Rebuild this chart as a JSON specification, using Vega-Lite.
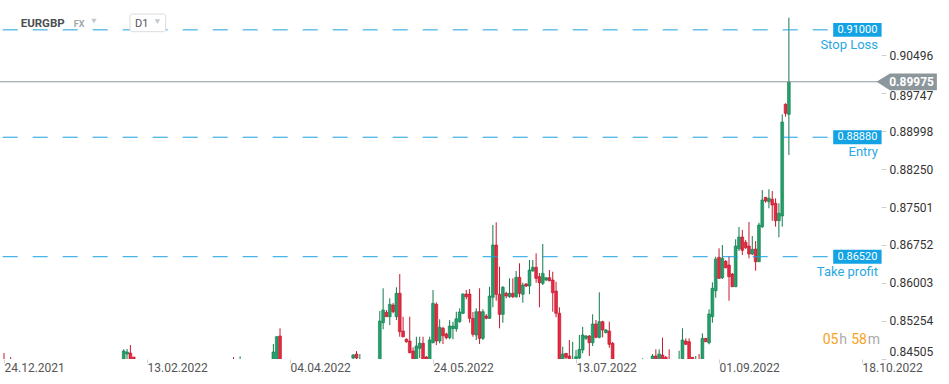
{
  "$schema": "https://vega.github.io/schema/vega-lite/v6.json",
  "width": 881,
  "height": 359,
  "autosize": {"type": "none"},
  "padding": {"left": 0, "top": 0, "right": 68, "bottom": 25},
  "background": "white",
  "config": {"view": {"stroke": null}, "font": "Roboto"},
  "datasets": {
    "candles": [
      {"i":0,"o":0.8444,"h":0.84618,"l":0.8430,"c":0.8436},
      {"i":2,"o":0.8445,"h":0.84539,"l":0.8435,"c":0.8440},
      {"i":36,"o":0.8440,"h":0.84691,"l":0.8435,"c":0.84658},
      {"i":37,"o":0.84598,"h":0.84697,"l":0.8445,"c":0.84638},
      {"i":38,"o":0.84618,"h":0.84776,"l":0.8435,"c":0.8440},
      {"i":39,"o":0.84539,"h":0.84539,"l":0.8440,"c":0.8448},
      {"i":69,"o":0.8448,"h":0.84539,"l":0.8438,"c":0.8442},
      {"i":71,"o":0.8442,"h":0.84553,"l":0.8438,"c":0.8448},
      {"i":81,"o":0.8440,"h":0.84796,"l":0.8435,"c":0.84638},
      {"i":82,"o":0.8448,"h":0.84954,"l":0.8440,"c":0.84940},
      {"i":83,"o":0.84954,"h":0.85106,"l":0.8440,"c":0.8445},
      {"i":105,"o":0.84519,"h":0.84598,"l":0.8448,"c":0.84578},
      {"i":106,"o":0.84598,"h":0.84657,"l":0.8448,"c":0.8452},
      {"i":107,"o":0.8446,"h":0.84598,"l":0.8440,"c":0.8449},
      {"i":113,"o":0.8440,"h":0.85448,"l":0.8435,"c":0.85250},
      {"i":114,"o":0.85216,"h":0.85896,"l":0.85086,"c":0.85467},
      {"i":115,"o":0.85422,"h":0.85467,"l":0.85335,"c":0.85335},
      {"i":116,"o":0.85335,"h":0.85698,"l":0.85171,"c":0.85580},
      {"i":117,"o":0.85566,"h":0.85605,"l":0.85402,"c":0.85434},
      {"i":118,"o":0.85335,"h":0.85916,"l":0.85270,"c":0.85797},
      {"i":119,"o":0.85797,"h":0.86178,"l":0.84940,"c":0.85039},
      {"i":120,"o":0.85052,"h":0.85335,"l":0.84928,"c":0.84940},
      {"i":121,"o":0.84889,"h":0.84908,"l":0.84822,"c":0.84841},
      {"i":122,"o":0.84855,"h":0.85335,"l":0.84612,"c":0.84624},
      {"i":123,"o":0.84657,"h":0.84731,"l":0.8440,"c":0.8445},
      {"i":124,"o":0.8448,"h":0.84940,"l":0.8442,"c":0.84756},
      {"i":125,"o":0.84711,"h":0.84940,"l":0.84519,"c":0.84810},
      {"i":126,"o":0.84810,"h":0.84940,"l":0.8444,"c":0.8449},
      {"i":127,"o":0.84539,"h":0.84559,"l":0.8444,"c":0.8449},
      {"i":128,"o":0.8448,"h":0.84940,"l":0.8443,"c":0.84875},
      {"i":129,"o":0.84822,"h":0.85862,"l":0.84810,"c":0.85599},
      {"i":130,"o":0.85580,"h":0.85619,"l":0.84776,"c":0.84855},
      {"i":131,"o":0.84855,"h":0.85283,"l":0.84810,"c":0.85126},
      {"i":132,"o":0.85106,"h":0.85137,"l":0.84796,"c":0.84960},
      {"i":133,"o":0.84993,"h":0.85019,"l":0.84889,"c":0.84920},
      {"i":134,"o":0.84920,"h":0.85270,"l":0.84889,"c":0.85151},
      {"i":135,"o":0.85098,"h":0.85236,"l":0.84889,"c":0.85151},
      {"i":136,"o":0.85098,"h":0.85434,"l":0.85039,"c":0.85295},
      {"i":137,"o":0.85236,"h":0.85501,"l":0.85216,"c":0.85428},
      {"i":138,"o":0.85402,"h":0.85797,"l":0.85388,"c":0.85783},
      {"i":139,"o":0.85783,"h":0.85862,"l":0.85679,"c":0.85730},
      {"i":140,"o":0.85783,"h":0.85882,"l":0.85216,"c":0.85303},
      {"i":141,"o":0.85303,"h":0.85428,"l":0.84940,"c":0.84987},
      {"i":142,"o":0.84974,"h":0.85501,"l":0.84875,"c":0.85434},
      {"i":143,"o":0.85434,"h":0.85896,"l":0.84796,"c":0.84908},
      {"i":144,"o":0.84908,"h":0.85481,"l":0.84875,"c":0.85434},
      {"i":145,"o":0.85349,"h":0.85388,"l":0.85283,"c":0.85303},
      {"i":146,"o":0.85303,"h":0.85927,"l":0.85289,"c":0.85744},
      {"i":147,"o":0.85718,"h":0.87146,"l":0.85521,"c":0.86751},
      {"i":148,"o":0.86751,"h":0.87199,"l":0.85651,"c":0.85777},
      {"i":149,"o":0.85777,"h":0.86322,"l":0.85106,"c":0.85382},
      {"i":150,"o":0.85382,"h":0.85941,"l":0.85216,"c":0.85916},
      {"i":151,"o":0.85797,"h":0.85829,"l":0.85698,"c":0.85744},
      {"i":152,"o":0.85730,"h":0.86093,"l":0.85710,"c":0.85797},
      {"i":153,"o":0.85797,"h":0.86093,"l":0.85704,"c":0.85730},
      {"i":154,"o":0.85730,"h":0.86238,"l":0.85710,"c":0.86113},
      {"i":155,"o":0.86113,"h":0.86390,"l":0.85718,"c":0.85797},
      {"i":156,"o":0.85777,"h":0.86006,"l":0.85611,"c":0.85961},
      {"i":157,"o":0.85981,"h":0.86000,"l":0.85921,"c":0.85941},
      {"i":158,"o":0.85941,"h":0.86455,"l":0.85783,"c":0.86257},
      {"i":159,"o":0.86238,"h":0.86455,"l":0.86224,"c":0.86311},
      {"i":160,"o":0.86311,"h":0.86587,"l":0.86006,"c":0.86093},
      {"i":161,"o":0.86125,"h":0.86198,"l":0.85521,"c":0.86006},
      {"i":162,"o":0.85994,"h":0.86771,"l":0.85961,"c":0.86192},
      {"i":163,"o":0.86060,"h":0.86119,"l":0.86040,"c":0.86105},
      {"i":164,"o":0.86105,"h":0.86257,"l":0.86034,"c":0.86046},
      {"i":165,"o":0.86060,"h":0.86224,"l":0.85434,"c":0.85809},
      {"i":166,"o":0.85842,"h":0.86026,"l":0.85323,"c":0.85402},
      {"i":167,"o":0.85402,"h":0.85521,"l":0.8435,"c":0.8440},
      {"i":168,"o":0.8448,"h":0.84742,"l":0.8443,"c":0.84598},
      {"i":169,"o":0.84612,"h":0.84618,"l":0.8448,"c":0.84533},
      {"i":170,"o":0.84559,"h":0.84875,"l":0.8445,"c":0.8449},
      {"i":171,"o":0.8444,"h":0.84841,"l":0.8440,"c":0.8448},
      {"i":172,"o":0.8448,"h":0.84678,"l":0.8444,"c":0.84545},
      {"i":173,"o":0.84519,"h":0.84974,"l":0.8448,"c":0.84691},
      {"i":174,"o":0.84678,"h":0.85137,"l":0.84612,"c":0.84974},
      {"i":175,"o":0.84908,"h":0.84974,"l":0.84875,"c":0.84954},
      {"i":176,"o":0.84954,"h":0.84974,"l":0.84559,"c":0.84822},
      {"i":177,"o":0.84822,"h":0.85382,"l":0.84756,"c":0.85191},
      {"i":178,"o":0.85191,"h":0.85270,"l":0.84908,"c":0.84928},
      {"i":179,"o":0.84928,"h":0.85817,"l":0.84908,"c":0.85236},
      {"i":180,"o":0.85236,"h":0.85256,"l":0.84928,"c":0.85072},
      {"i":181,"o":0.85019,"h":0.85092,"l":0.85007,"c":0.85072},
      {"i":182,"o":0.85052,"h":0.85236,"l":0.84723,"c":0.84790},
      {"i":183,"o":0.84810,"h":0.84835,"l":0.8435,"c":0.8440},
      {"i":192,"o":0.8442,"h":0.84513,"l":0.8438,"c":0.8447},
      {"i":195,"o":0.8448,"h":0.84598,"l":0.8444,"c":0.84559},
      {"i":196,"o":0.84559,"h":0.84691,"l":0.8445,"c":0.8449},
      {"i":197,"o":0.8449,"h":0.84691,"l":0.8445,"c":0.84598},
      {"i":198,"o":0.84578,"h":0.84920,"l":0.8445,"c":0.8449},
      {"i":199,"o":0.84533,"h":0.84559,"l":0.8444,"c":0.8448},
      {"i":200,"o":0.8449,"h":0.84691,"l":0.8442,"c":0.8446},
      {"i":203,"o":0.8446,"h":0.84663,"l":0.8442,"c":0.8449},
      {"i":204,"o":0.8449,"h":0.85106,"l":0.8445,"c":0.84875},
      {"i":205,"o":0.84855,"h":0.84908,"l":0.84776,"c":0.84790},
      {"i":206,"o":0.84841,"h":0.84908,"l":0.8445,"c":0.8449},
      {"i":207,"o":0.84533,"h":0.84539,"l":0.8445,"c":0.8449},
      {"i":208,"o":0.8446,"h":0.84559,"l":0.8442,"c":0.8449},
      {"i":209,"o":0.8449,"h":0.84598,"l":0.8442,"c":0.8446},
      {"i":210,"o":0.8447,"h":0.85007,"l":0.8444,"c":0.84908},
      {"i":211,"o":0.84908,"h":0.84914,"l":0.84835,"c":0.84841},
      {"i":212,"o":0.84822,"h":0.85481,"l":0.84790,"c":0.85388},
      {"i":213,"o":0.85335,"h":0.86014,"l":0.85216,"c":0.85896},
      {"i":214,"o":0.85848,"h":0.86520,"l":0.85710,"c":0.86474},
      {"i":215,"o":0.86508,"h":0.86686,"l":0.86080,"c":0.86093},
      {"i":216,"o":0.86105,"h":0.86751,"l":0.86080,"c":0.86488},
      {"i":217,"o":0.86429,"h":0.86455,"l":0.86291,"c":0.86303},
      {"i":218,"o":0.86356,"h":0.86534,"l":0.85651,"c":0.86125},
      {"i":219,"o":0.86178,"h":0.86198,"l":0.85921,"c":0.85927},
      {"i":220,"o":0.85927,"h":0.86864,"l":0.85921,"c":0.86731},
      {"i":221,"o":0.86678,"h":0.87107,"l":0.86633,"c":0.86909},
      {"i":222,"o":0.86909,"h":0.87047,"l":0.86554,"c":0.86646},
      {"i":223,"o":0.86804,"h":0.86850,"l":0.86672,"c":0.86698},
      {"i":224,"o":0.86731,"h":0.87205,"l":0.86488,"c":0.86573},
      {"i":225,"o":0.86573,"h":0.86929,"l":0.86554,"c":0.86666},
      {"i":226,"o":0.86672,"h":0.86830,"l":0.86243,"c":0.86421},
      {"i":227,"o":0.86421,"h":0.87192,"l":0.86415,"c":0.87146},
      {"i":228,"o":0.87113,"h":0.87837,"l":0.87087,"c":0.87640},
      {"i":229,"o":0.87693,"h":0.87699,"l":0.87586,"c":0.87620},
      {"i":230,"o":0.87606,"h":0.87851,"l":0.87476,"c":0.87673},
      {"i":231,"o":0.87654,"h":0.87817,"l":0.87231,"c":0.87541},
      {"i":232,"o":0.87575,"h":0.87673,"l":0.87113,"c":0.87231},
      {"i":233,"o":0.87231,"h":0.87575,"l":0.86903,"c":0.87377},
      {"i":234,"o":0.87324,"h":0.89332,"l":0.87113,"c":0.89180},
      {"i":235,"o":0.89530,"h":0.89550,"l":0.89285,"c":0.89352},
      {"i":236,"o":0.89332,"h":0.91240,"l":0.88529,"c":0.89975}
    ],
    "levels": [
      {"p":0.91,"name":"Stop Loss","lab":"0.91000"},
      {"p":0.8888,"name":"Entry","lab":"0.88880"},
      {"p":0.8652,"name":"Take profit","lab":"0.86520"}
    ]
  },
  "layer": [
    {
      "data": {"name": "candles"},
      "mark": {"type": "rule", "clip": true, "strokeWidth": 1},
      "encoding": {
        "x": {"field": "i", "type": "quantitative", "scale": {"domain": [-1.2, 263.7], "nice": false, "zero": false, "padding": 0},
          "axis": {"values": [0, 43, 86, 129, 172, 215, 258],
            "labelExpr": "['24.12.2021','13.02.2022','04.04.2022','24.05.2022','13.07.2022','01.09.2022','18.10.2022'][round(datum.value/43)]",
            "labelAlign": "left", "labelFontSize": 12, "labelColor": "#555555", "labelFont": "Roboto", "labelPadding": -1,
            "tickSize": 4, "tickColor": "#d0d0d0", "domain": false, "grid": false, "title": null, "zindex": 0,
            "labelOverlap": false, "labelBound": false, "labelFlush": false}},
        "y": {"field": "l", "type": "quantitative", "scale": {"domain": [0.845, 0.9159], "nice": false, "zero": false, "padding": 0},
          "axis": {"orient": "right", "values": [0.84505, 0.85254, 0.86003, 0.86752, 0.87501, 0.8825, 0.88998, 0.89747, 0.90496],
            "format": ".5f", "labelFontSize": 12, "labelColor": "#333333", "labelFont": "Roboto", "labelPadding": 3,
            "tickSize": 5, "tickColor": "#d0d0d0", "domain": false, "grid": false, "title": null, "zindex": 0,
            "labelOverlap": false, "labelBound": false, "labelFlush": false,
            "labelOffset": {"condition": {"test": "abs(datum.value - 0.89747) < 0.00001", "value": 2}, "value": 0},
            "labelBaseline": {"condition": {"test": "datum.value < 0.846", "value": "bottom"}, "value": "middle"}}},
        "y2": {"field": "h"},
        "stroke": {"condition": {"test": "datum.c >= datum.o", "value": "#137a4b"}, "value": "#c8192f"}
      }
    },
    {
      "data": {"name": "candles"},
      "mark": {"type": "bar", "clip": true, "size": 2.8, "strokeWidth": 0.6},
      "encoding": {
        "x": {"field": "i", "type": "quantitative", "scale": {"domain": [-1.2, 263.7], "nice": false, "zero": false, "padding": 0}},
        "y": {"field": "o", "type": "quantitative", "scale": {"domain": [0.845, 0.9159], "nice": false, "zero": false, "padding": 0}},
        "y2": {"field": "c"},
        "fill": {"condition": {"test": "datum.c >= datum.o", "value": "#22a06b"}, "value": "#e8293f"},
        "stroke": {"condition": {"test": "datum.c >= datum.o", "value": "#137a4b"}, "value": "#b5152b"}
      }
    },
    {
      "data": {"name": "levels"},
      "mark": {"type": "rule", "strokeDash": [15, 15], "strokeDashOffset": 27.3, "color": "#1aa1e2", "strokeWidth": 1},
      "encoding": {
        "x": {"datum": -1.2, "type": "quantitative", "scale": {"domain": [-1.2, 263.7], "nice": false, "zero": false, "padding": 0}},
        "x2": {"datum": 248.4},
        "y": {"field": "p", "type": "quantitative", "scale": {"domain": [0.845, 0.9159], "nice": false, "zero": false, "padding": 0}}
      }
    },
    {
      "data": {"values": [{}]},
      "mark": {"type": "rule", "color": "#8e989d", "strokeWidth": 1},
      "encoding": {
        "y": {"datum": 0.89975, "type": "quantitative", "scale": {"domain": [0.845, 0.9159], "nice": false, "zero": false, "padding": 0}}
      }
    },
    {
      "data": {"name": "levels"},
      "mark": {"type": "point", "shape": "M-1,-0.289L1,-0.289L1,0.289L-1,0.289Z", "filled": true, "size": 2343, "color": "#13a3e4", "opacity": 1, "strokeWidth": 0},
      "encoding": {
        "x": {"datum": 256.6, "type": "quantitative", "scale": {"domain": [-1.2, 263.7], "nice": false, "zero": false, "padding": 0}},
        "y": {"field": "p", "type": "quantitative", "scale": {"domain": [0.845, 0.9159], "nice": false, "zero": false, "padding": 0}}
      }
    },
    {
      "data": {"name": "levels"},
      "mark": {"type": "text", "color": "white", "fontSize": 11, "font": "Roboto", "align": "center", "baseline": "middle"},
      "encoding": {
        "x": {"datum": 256.6, "type": "quantitative", "scale": {"domain": [-1.2, 263.7], "nice": false, "zero": false, "padding": 0}},
        "y": {"field": "p", "type": "quantitative", "scale": {"domain": [0.845, 0.9159], "nice": false, "zero": false, "padding": 0}},
        "text": {"field": "lab"}
      }
    },
    {
      "data": {"name": "levels"},
      "mark": {"type": "text", "color": "#2aa8e2", "fontSize": 13, "font": "Roboto", "align": "right", "baseline": "middle", "dy": 15},
      "encoding": {
        "x": {"datum": 262.8, "type": "quantitative", "scale": {"domain": [-1.2, 263.7], "nice": false, "zero": false, "padding": 0}},
        "y": {"field": "p", "type": "quantitative", "scale": {"domain": [0.845, 0.9159], "nice": false, "zero": false, "padding": 0}},
        "text": {"field": "name"}
      }
    },
    {
      "data": {"values": [{}]},
      "mark": {"type": "point", "shape": "M-1,0L-0.56,-0.277L1,-0.277L1,0.277L-0.56,0.277Z", "filled": true, "size": 3636, "color": "#8c979c", "opacity": 1, "strokeWidth": 0},
      "encoding": {
        "x": {"datum": 271.44, "type": "quantitative", "scale": {"domain": [-1.2, 263.7], "nice": false, "zero": false, "padding": 0}},
        "y": {"datum": 0.89975, "type": "quantitative", "scale": {"domain": [0.845, 0.9159], "nice": false, "zero": false, "padding": 0}}
      }
    },
    {
      "data": {"values": [{}]},
      "mark": {"type": "text", "text": "0.89975", "color": "white", "fontSize": 12, "fontWeight": "bold", "font": "Roboto", "align": "center", "baseline": "middle"},
      "encoding": {
        "x": {"datum": 272.9, "type": "quantitative", "scale": {"domain": [-1.2, 263.7], "nice": false, "zero": false, "padding": 0}},
        "y": {"datum": 0.89975, "type": "quantitative", "scale": {"domain": [0.845, 0.9159], "nice": false, "zero": false, "padding": 0}}
      }
    },
    {
      "data": {"values": [{}]},
      "mark": {"type": "text", "text": "EURGBP", "color": "#4a4f52", "fontSize": 11.5, "fontWeight": "bold", "font": "Roboto", "align": "left", "baseline": "alphabetic"},
      "encoding": {
        "x": {"datum": 5.02, "type": "quantitative", "scale": {"domain": [-1.2, 263.7], "nice": false, "zero": false, "padding": 0}},
        "y": {"datum": 0.91063, "type": "quantitative", "scale": {"domain": [0.845, 0.9159], "nice": false, "zero": false, "padding": 0}}
      }
    },
    {
      "data": {"values": [{}]},
      "mark": {"type": "text", "text": "FX", "color": "#a0a8ac", "fontSize": 9, "fontWeight": "bold", "font": "Roboto", "align": "left", "baseline": "alphabetic"},
      "encoding": {
        "x": {"datum": 20.96, "type": "quantitative", "scale": {"domain": [-1.2, 263.7], "nice": false, "zero": false, "padding": 0}},
        "y": {"datum": 0.91057, "type": "quantitative", "scale": {"domain": [0.845, 0.9159], "nice": false, "zero": false, "padding": 0}}
      }
    },
    {
      "data": {"values": [{}]},
      "mark": {"type": "point", "shape": "triangle-down", "filled": true, "size": 30, "color": "#c3c9cc", "opacity": 1},
      "encoding": {
        "x": {"datum": 27.06, "type": "quantitative", "scale": {"domain": [-1.2, 263.7], "nice": false, "zero": false, "padding": 0}},
        "y": {"datum": 0.91175, "type": "quantitative", "scale": {"domain": [0.845, 0.9159], "nice": false, "zero": false, "padding": 0}}
      }
    },
    {
      "data": {"values": [{}]},
      "mark": {"type": "rect", "fill": "white", "stroke": "#dcdcdc", "strokeWidth": 1, "cornerRadius": 2},
      "encoding": {
        "x": {"datum": 37.88, "type": "quantitative", "scale": {"domain": [-1.2, 263.7], "nice": false, "zero": false, "padding": 0}},
        "x2": {"datum": 48.62},
        "y": {"datum": 0.91313, "type": "quantitative", "scale": {"domain": [0.845, 0.9159], "nice": false, "zero": false, "padding": 0}},
        "y2": {"datum": 0.90964}
      }
    },
    {
      "data": {"values": [{}]},
      "mark": {"type": "text", "text": "D1", "color": "#555555", "fontSize": 11, "font": "Roboto", "align": "left", "baseline": "alphabetic"},
      "encoding": {
        "x": {"datum": 39.39, "type": "quantitative", "scale": {"domain": [-1.2, 263.7], "nice": false, "zero": false, "padding": 0}},
        "y": {"datum": 0.91057, "type": "quantitative", "scale": {"domain": [0.845, 0.9159], "nice": false, "zero": false, "padding": 0}}
      }
    },
    {
      "data": {"values": [{}]},
      "mark": {"type": "point", "shape": "triangle-down", "filled": true, "size": 30, "color": "#c3c9cc", "opacity": 1},
      "encoding": {
        "x": {"datum": 46.15, "type": "quantitative", "scale": {"domain": [-1.2, 263.7], "nice": false, "zero": false, "padding": 0}},
        "y": {"datum": 0.91165, "type": "quantitative", "scale": {"domain": [0.845, 0.9159], "nice": false, "zero": false, "padding": 0}}
      }
    },
    {
      "data": {"values": [{}]},
      "mark": {"type": "text", "text": "05", "color": "#f7a21c", "fontSize": 14, "font": "Roboto", "align": "left", "baseline": "alphabetic"},
      "encoding": {
        "x": {"datum": 246.15, "type": "quantitative", "scale": {"domain": [-1.2, 263.7], "nice": false, "zero": false, "padding": 0}},
        "y": {"datum": 0.84796, "type": "quantitative", "scale": {"domain": [0.845, 0.9159], "nice": false, "zero": false, "padding": 0}}
      }
    },
    {
      "data": {"values": [{}]},
      "mark": {"type": "text", "text": "h", "color": "#aaaaaa", "fontSize": 14, "font": "Roboto", "align": "left", "baseline": "alphabetic"},
      "encoding": {
        "x": {"datum": 251.15, "type": "quantitative", "scale": {"domain": [-1.2, 263.7], "nice": false, "zero": false, "padding": 0}},
        "y": {"datum": 0.84796, "type": "quantitative", "scale": {"domain": [0.845, 0.9159], "nice": false, "zero": false, "padding": 0}}
      }
    },
    {
      "data": {"values": [{}]},
      "mark": {"type": "text", "text": "58", "color": "#f7a21c", "fontSize": 14, "font": "Roboto", "align": "left", "baseline": "alphabetic"},
      "encoding": {
        "x": {"datum": 254.75, "type": "quantitative", "scale": {"domain": [-1.2, 263.7], "nice": false, "zero": false, "padding": 0}},
        "y": {"datum": 0.84796, "type": "quantitative", "scale": {"domain": [0.845, 0.9159], "nice": false, "zero": false, "padding": 0}}
      }
    },
    {
      "data": {"values": [{}]},
      "mark": {"type": "text", "text": "m", "color": "#aaaaaa", "fontSize": 14, "font": "Roboto", "align": "left", "baseline": "alphabetic"},
      "encoding": {
        "x": {"datum": 259.7, "type": "quantitative", "scale": {"domain": [-1.2, 263.7], "nice": false, "zero": false, "padding": 0}},
        "y": {"datum": 0.84796, "type": "quantitative", "scale": {"domain": [0.845, 0.9159], "nice": false, "zero": false, "padding": 0}}
      }
    }
  ]
}
